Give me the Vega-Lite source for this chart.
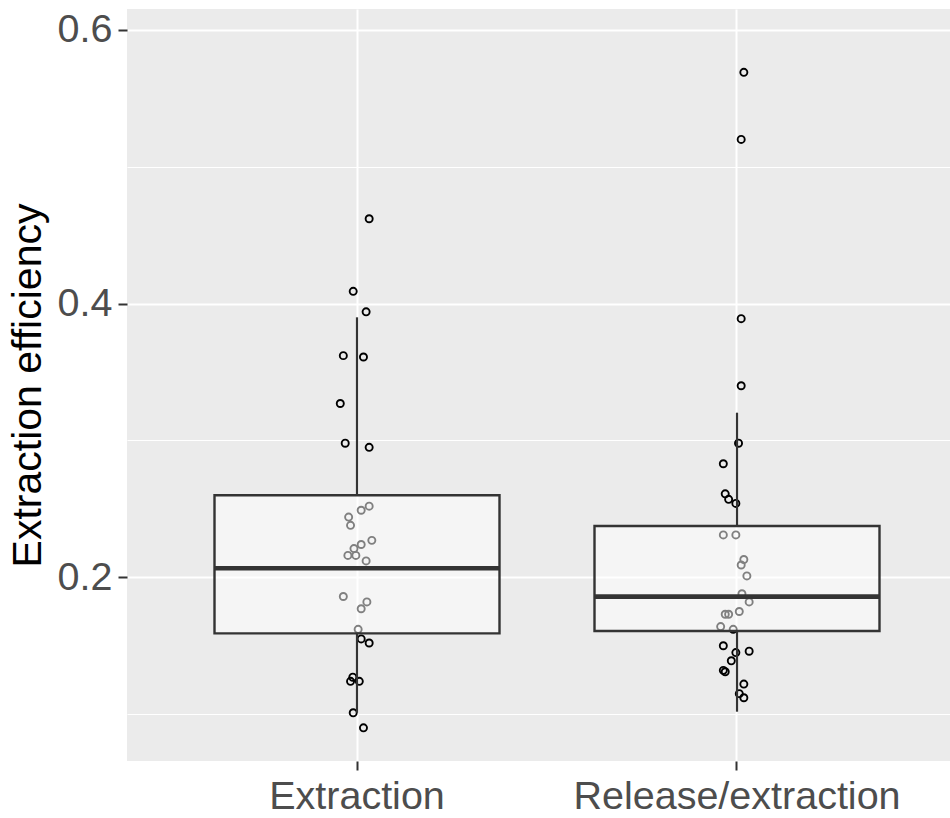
{
  "$schema": "https://vega.github.io/schema/vega-lite/v6.json",
  "width": 823,
  "height": 752,
  "autosize": {"type": "none"},
  "padding": {"left": 127, "top": 9, "right": 0, "bottom": 57},
  "background": "white",
  "config": {
    "view": {"fill": "#EBEBEB", "stroke": null},
    "font": "Liberation Sans"
  },
  "datasets": {
    "points": [
      {"group": "Extraction", "jitter": 0.032, "value": 0.462},
      {"group": "Extraction", "jitter": -0.010, "value": 0.409},
      {"group": "Extraction", "jitter": 0.024, "value": 0.394},
      {"group": "Extraction", "jitter": -0.036, "value": 0.362},
      {"group": "Extraction", "jitter": 0.017, "value": 0.361},
      {"group": "Extraction", "jitter": -0.044, "value": 0.327},
      {"group": "Extraction", "jitter": -0.031, "value": 0.298},
      {"group": "Extraction", "jitter": 0.032, "value": 0.295},
      {"group": "Extraction", "jitter": 0.032, "value": 0.252},
      {"group": "Extraction", "jitter": 0.011, "value": 0.249},
      {"group": "Extraction", "jitter": -0.022, "value": 0.244},
      {"group": "Extraction", "jitter": -0.017, "value": 0.238},
      {"group": "Extraction", "jitter": 0.039, "value": 0.227},
      {"group": "Extraction", "jitter": 0.011, "value": 0.224},
      {"group": "Extraction", "jitter": -0.008, "value": 0.221},
      {"group": "Extraction", "jitter": -0.024, "value": 0.216},
      {"group": "Extraction", "jitter": -0.003, "value": 0.216},
      {"group": "Extraction", "jitter": 0.024, "value": 0.212},
      {"group": "Extraction", "jitter": -0.036, "value": 0.186},
      {"group": "Extraction", "jitter": 0.026, "value": 0.182},
      {"group": "Extraction", "jitter": 0.011, "value": 0.177},
      {"group": "Extraction", "jitter": 0.003, "value": 0.162},
      {"group": "Extraction", "jitter": 0.011, "value": 0.155},
      {"group": "Extraction", "jitter": 0.032, "value": 0.152},
      {"group": "Extraction", "jitter": -0.011, "value": 0.127},
      {"group": "Extraction", "jitter": -0.017, "value": 0.124},
      {"group": "Extraction", "jitter": 0.006, "value": 0.124},
      {"group": "Extraction", "jitter": -0.010, "value": 0.101},
      {"group": "Extraction", "jitter": 0.017, "value": 0.090},
      {"group": "Release/extraction", "jitter": 0.018, "value": 0.569},
      {"group": "Release/extraction", "jitter": 0.011, "value": 0.520},
      {"group": "Release/extraction", "jitter": 0.011, "value": 0.389},
      {"group": "Release/extraction", "jitter": 0.011, "value": 0.340},
      {"group": "Release/extraction", "jitter": 0.004, "value": 0.298},
      {"group": "Release/extraction", "jitter": -0.036, "value": 0.283},
      {"group": "Release/extraction", "jitter": -0.031, "value": 0.261},
      {"group": "Release/extraction", "jitter": -0.022, "value": 0.257},
      {"group": "Release/extraction", "jitter": -0.003, "value": 0.254},
      {"group": "Release/extraction", "jitter": -0.036, "value": 0.231},
      {"group": "Release/extraction", "jitter": -0.003, "value": 0.231},
      {"group": "Release/extraction", "jitter": 0.018, "value": 0.213},
      {"group": "Release/extraction", "jitter": 0.011, "value": 0.209},
      {"group": "Release/extraction", "jitter": 0.026, "value": 0.201},
      {"group": "Release/extraction", "jitter": 0.013, "value": 0.188},
      {"group": "Release/extraction", "jitter": 0.032, "value": 0.182},
      {"group": "Release/extraction", "jitter": 0.006, "value": 0.175},
      {"group": "Release/extraction", "jitter": -0.022, "value": 0.173},
      {"group": "Release/extraction", "jitter": -0.031, "value": 0.173},
      {"group": "Release/extraction", "jitter": -0.043, "value": 0.164},
      {"group": "Release/extraction", "jitter": -0.010, "value": 0.162},
      {"group": "Release/extraction", "jitter": -0.036, "value": 0.150},
      {"group": "Release/extraction", "jitter": -0.003, "value": 0.145},
      {"group": "Release/extraction", "jitter": 0.032, "value": 0.146},
      {"group": "Release/extraction", "jitter": -0.015, "value": 0.139},
      {"group": "Release/extraction", "jitter": -0.036, "value": 0.132},
      {"group": "Release/extraction", "jitter": -0.031, "value": 0.131},
      {"group": "Release/extraction", "jitter": 0.018, "value": 0.122},
      {"group": "Release/extraction", "jitter": 0.006, "value": 0.115},
      {"group": "Release/extraction", "jitter": 0.018, "value": 0.112}
    ],
    "boxes": [
      {"group": "Extraction", "lower": 0.101, "q1": 0.159, "median": 0.2066, "q3": 0.260, "upper": 0.390},
      {"group": "Release/extraction", "lower": 0.1018, "q1": 0.1608, "median": 0.1859, "q3": 0.2375, "upper": 0.3203}
    ]
  },
  "encoding": {
    "x": {
      "field": "group",
      "type": "nominal",
      "sort": ["Extraction", "Release/extraction"],
      "scale": {"type": "band", "paddingInner": 0.25, "paddingOuter": 0.2079, "align": 0.5538},
      "axis": {
        "title": null,
        "domain": false,
        "grid": true,
        "gridColor": "white",
        "gridWidth": 2,
        "bandPosition": 0.5,
        "ticks": true,
        "tickSize": 9,
        "tickWidth": 2,
        "tickColor": "#333333",
        "labelAngle": 0,
        "labelLimit": 0,
        "labelFont": "Liberation Sans",
        "labelFontSize": 39.5,
        "labelColor": "#4D4D4D",
        "labelPadding": 7
      }
    }
  },
  "layer": [
    {
      "data": {"name": "points"},
      "mark": {"type": "point", "shape": "circle", "filled": false, "stroke": "black", "strokeWidth": 1.9, "size": 50, "opacity": 1},
      "encoding": {
        "xOffset": {"field": "jitter", "type": "quantitative", "scale": {"domain": [-0.375, 0.375]}},
        "y": {
          "field": "value",
          "type": "quantitative",
          "scale": {"domain": [0.06577, 0.6153], "nice": false, "zero": false},
          "axis": {
            "title": "Extraction efficiency",
            "titleFont": "Liberation Sans",
            "titleFontSize": 41,
            "titleFontWeight": "normal",
            "titleColor": "black",
            "titlePadding": 8,
            "values": [0.1, 0.2, 0.3, 0.4, 0.5, 0.6],
            "domain": false,
            "grid": true,
            "gridColor": "white",
            "gridWidth": {"condition": {"test": "round(datum.value*10) % 2 == 1", "value": 1.2}, "value": 2},
            "tickSize": 9,
            "tickWidth": 2,
            "tickColor": "#333333",
            "tickOpacity": {"condition": {"test": "round(datum.value*10) % 2 == 1", "value": 0}, "value": 1},
            "labelExpr": "round(datum.value*10) % 2 == 1 ? '' : format(datum.value, '.1f')",
            "labelFont": "Liberation Sans",
            "labelFontSize": 39.5,
            "labelColor": "#4D4D4D",
            "labelPadding": 6
          }
        }
      }
    },
    {
      "data": {"name": "boxes"},
      "mark": {"type": "bar", "fill": "white", "fillOpacity": 0.5, "stroke": "#333333", "strokeWidth": 2.4},
      "encoding": {
        "x": {"field": "group", "type": "nominal", "bandPosition": 0},
        "x2": {"field": "group", "bandPosition": 1},
        "y": {"field": "q1", "type": "quantitative", "title": "Extraction efficiency"},
        "y2": {"field": "q3"}
      }
    },
    {
      "data": {"name": "boxes"},
      "mark": {"type": "rule", "color": "#333333", "strokeWidth": 2.2},
      "encoding": {
        "y": {"field": "q3", "type": "quantitative", "title": "Extraction efficiency"},
        "y2": {"field": "upper"}
      }
    },
    {
      "data": {"name": "boxes"},
      "mark": {"type": "rule", "color": "#333333", "strokeWidth": 2.2},
      "encoding": {
        "y": {"field": "lower", "type": "quantitative", "title": "Extraction efficiency"},
        "y2": {"field": "q1"}
      }
    },
    {
      "data": {"name": "boxes"},
      "mark": {"type": "rule", "color": "#333333", "strokeWidth": 4.6},
      "encoding": {
        "x": {"field": "group", "type": "nominal", "bandPosition": 0},
        "x2": {"field": "group", "bandPosition": 1},
        "y": {"field": "median", "type": "quantitative", "title": "Extraction efficiency"}
      }
    }
  ]
}
